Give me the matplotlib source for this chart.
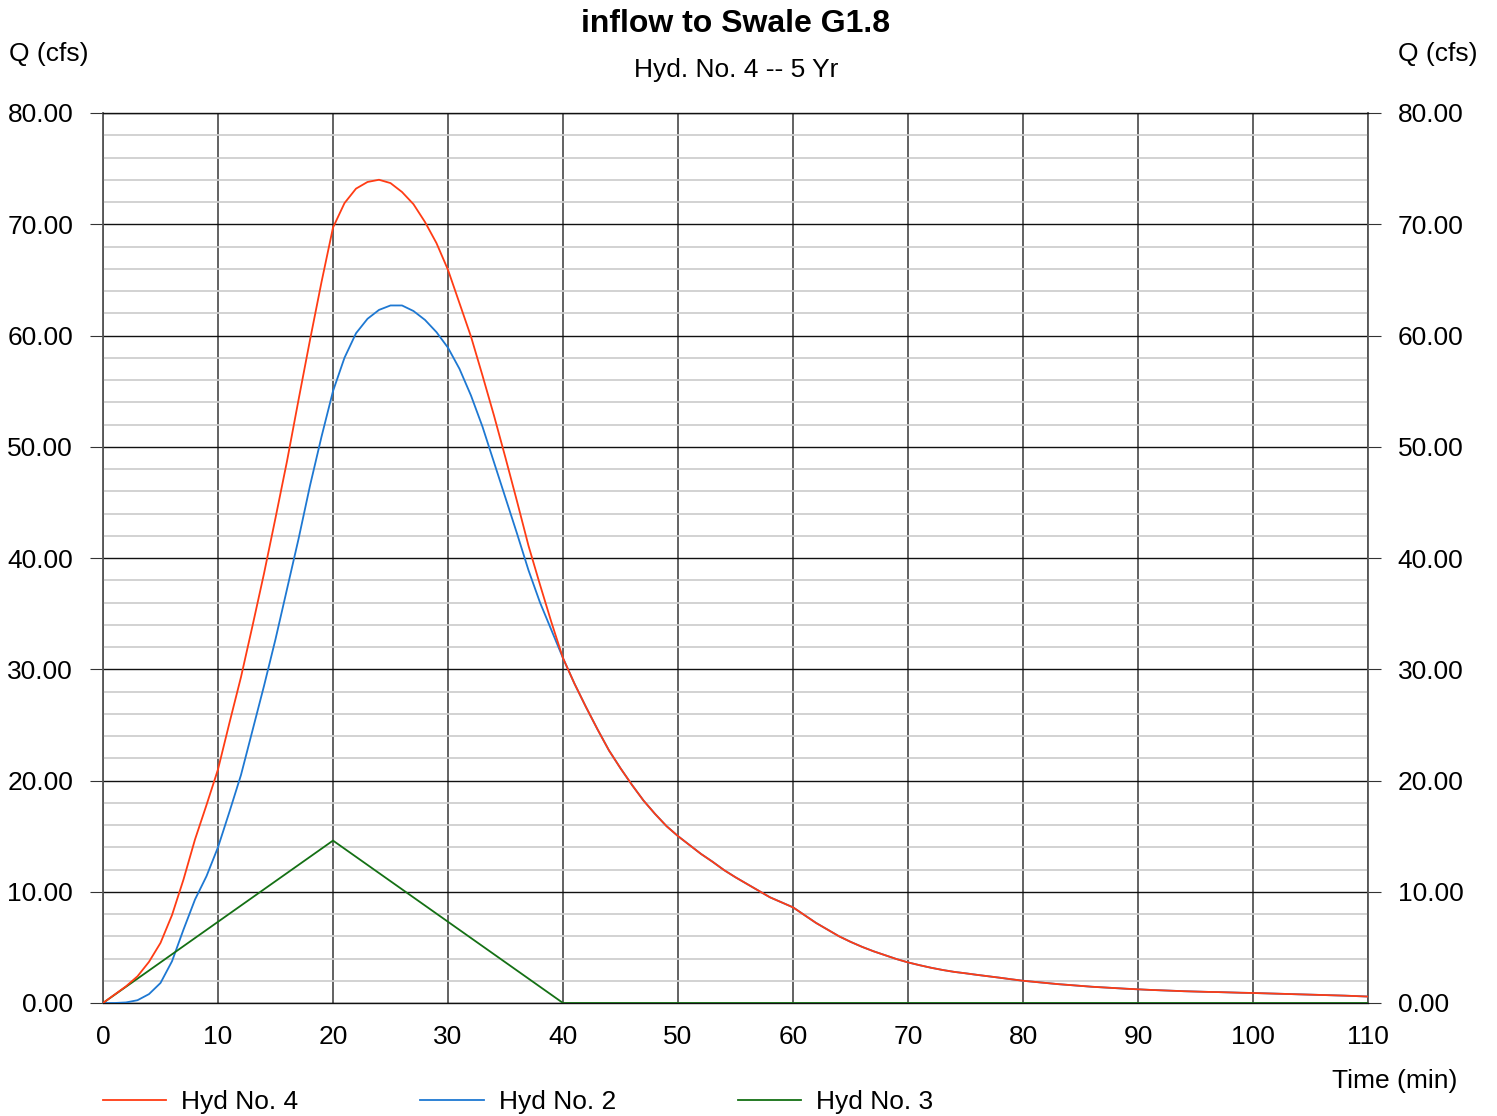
import numpy as np
import matplotlib
matplotlib.use("Agg")
import matplotlib.pyplot as plt
from matplotlib.ticker import MultipleLocator

plt.rcParams['font.family'] = ['Liberation Sans', 'DejaVu Sans']

# ---------------- data ----------------
time_min = np.arange(0, 111, 1)

hyd4_q = [0.0, 0.75, 1.5, 2.4, 3.7, 5.4, 7.9, 11.1, 14.7, 17.8,
          21.0, 25.2, 29.3, 33.9, 38.6, 43.6, 48.7, 54.2, 59.6, 64.8,
          69.7, 71.9, 73.2, 73.8, 74.0, 73.7, 72.9, 71.8, 70.2, 68.3,
          65.9, 62.9, 59.9, 56.4, 52.8, 49.0, 45.1, 41.1, 37.6, 34.2,
          31.0, 28.7, 26.6, 24.6, 22.7, 21.1, 19.6, 18.2, 17.0, 15.9,
          15.0, 14.2, 13.4, 12.7, 11.95, 11.3, 10.7, 10.1, 9.5, 9.05,
          8.6, 7.9, 7.2, 6.6, 6.0, 5.5, 5.05, 4.65, 4.3, 3.95,
          3.65, 3.4, 3.17, 2.97, 2.8, 2.67, 2.53, 2.4, 2.27, 2.13,
          2.0, 1.9, 1.8, 1.7, 1.62, 1.54, 1.46, 1.4, 1.34, 1.28,
          1.23, 1.18, 1.14, 1.10, 1.06, 1.03, 1.0, 0.98, 0.95, 0.92,
          0.9, 0.87, 0.84, 0.81, 0.78, 0.75, 0.72, 0.69, 0.66, 0.62, 0.58]

hyd2_q = [0.0, 0.0, 0.05, 0.25, 0.8, 1.8, 3.75, 6.6, 9.3, 11.4,
          14.0, 17.2, 20.5, 24.5, 28.5, 32.7, 37.2, 41.7, 46.5, 50.9,
          55.0, 58.0, 60.2, 61.5, 62.3, 62.7, 62.7, 62.2, 61.4, 60.3,
          58.9, 57.0, 54.6, 51.8, 48.6, 45.4, 42.2, 38.9, 36.0, 33.5,
          31.0, 28.7, 26.6, 24.6, 22.7, 21.1, 19.6, 18.2, 17.0, 15.9,
          15.0, 14.2, 13.4, 12.7, 11.95, 11.3, 10.7, 10.1, 9.5, 9.05,
          8.6, 7.9, 7.2, 6.6, 6.0, 5.5, 5.05, 4.65, 4.3, 3.95,
          3.65, 3.4, 3.17, 2.97, 2.8, 2.67, 2.53, 2.4, 2.27, 2.13,
          2.0, 1.9, 1.8, 1.7, 1.62, 1.54, 1.46, 1.4, 1.34, 1.28,
          1.23, 1.18, 1.14, 1.10, 1.06, 1.03, 1.0, 0.98, 0.95, 0.92,
          0.9, 0.87, 0.84, 0.81, 0.78, 0.75, 0.72, 0.69, 0.66, 0.62, 0.58]

hyd3_t = [0, 20, 40, 110]
hyd3_q = [0.0, 14.6, 0.0, 0.0]

series_labels = ["Hyd No. 4", "Hyd No. 2", "Hyd No. 3"]
series_colors = ["#ff3c14", "#1e78d2", "#147014"]

x_ticks = [0, 10, 20, 30, 40, 50, 60, 70, 80, 90, 100, 110]
y_ticks = [0, 10, 20, 30, 40, 50, 60, 70, 80]

title = "inflow to Swale G1.8"
subtitle = "Hyd. No. 4 -- 5 Yr"

FS = 19

# ---------------- figure ----------------
W, H = 1497, 1116
fig = plt.figure(figsize=(W / 100, H / 100), dpi=100)
ax = fig.add_axes([103 / W, 113 / H, (1368 - 103) / W, (1003 - 113) / H])

ax.set_xlim(0, 110)
ax.set_ylim(0, 80)

# grid
ax.yaxis.set_minor_locator(MultipleLocator(2))
ax.grid(which='minor', axis='y', color='#cfcfcf', lw=1.3, zorder=0)
ax.set_xticks(x_ticks)
ax.set_yticks(y_ticks)
ax.set_xticklabels([str(v) for v in x_ticks])
ax.set_yticklabels([f"{v:.2f}" for v in y_ticks])
ax.grid(which='major', axis='y', color='#111111', lw=1.0, zorder=1)
ax.grid(which='major', axis='x', color='#555555', lw=1.3, zorder=1)

ax.tick_params(axis='x', which='major', length=0, pad=15.5, labelsize=FS)
ax.tick_params(axis='y', which='major', length=9.5, width=0.8, color='#333333',
               pad=12.0, labelsize=FS, left=True, right=True,
               labelleft=True, labelright=True)
ax.tick_params(axis='y', which='minor', length=0, left=False, right=False)

for s in ['left', 'right']:
    ax.spines[s].set_color('#555555')
    ax.spines[s].set_linewidth(1.3)
for s in ['top', 'bottom']:
    ax.spines[s].set_color('#111111')
    ax.spines[s].set_linewidth(1.0)

ax.plot(time_min, hyd4_q, color=series_colors[0], lw=1.3, label=series_labels[0], zorder=4)
ax.plot(time_min, hyd2_q, color=series_colors[1], lw=1.3, label=series_labels[1], zorder=3)
ax.plot(hyd3_t, hyd3_q, color=series_colors[2], lw=1.3, label=series_labels[2], zorder=3)

# titles and axis labels
fig.text(736 / W, 1 - 24 / H, title, ha='center', va='center', fontsize=23, weight='bold')
fig.text(736 / W, 1 - 70 / H, subtitle, ha='center', va='center', fontsize=FS)
fig.text(9 / W, 1 - 54 / H, "Q (cfs)", ha='left', va='center', fontsize=FS)
fig.text(1478 / W, 1 - 54 / H, "Q (cfs)", ha='right', va='center', fontsize=FS)
fig.text(1457 / W, 1 - 1081 / H, "Time (min)", ha='right', va='center', fontsize=FS)

leg = fig.legend(loc='center left', bbox_to_anchor=(103 / W, 14 / H), ncol=3,
                 frameon=False, borderpad=0, borderaxespad=0, fontsize=FS,
                 handlelength=2.4, handletextpad=0.57, columnspacing=4.62)
for l in leg.get_lines():
    l.set_linewidth(1.3)

fig.savefig("out.png", dpi=100)
